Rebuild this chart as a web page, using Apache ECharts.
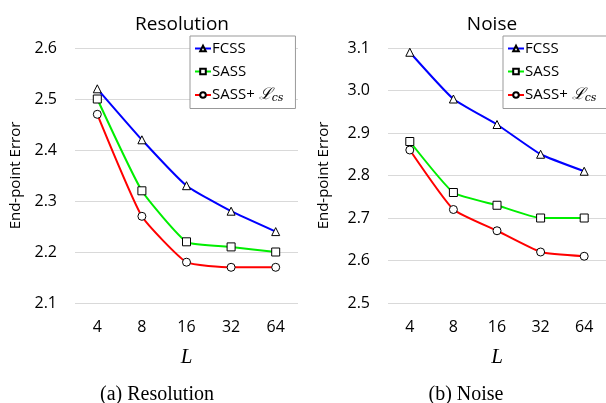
<!DOCTYPE html>
<html><head><meta charset="utf-8">
<script src="https://cdn.jsdelivr.net/npm/echarts@6/dist/echarts.min.js"></script>
<style>html,body{margin:0;padding:0;background:#fff}#c{width:606px;height:403px}</style>
</head><body><div id="c"></div>
<script>
const categories = ['4', '8', '16', '32', '64'];
const resFCSS = [2.52, 2.42, 2.33, 2.28, 2.24];
const resSASS = [2.50, 2.32, 2.22, 2.21, 2.20];
const resSASScs = [2.47, 2.27, 2.18, 2.17, 2.17];
const noiseFCSS = [3.09, 2.98, 2.92, 2.85, 2.81];
const noiseSASS = [2.88, 2.76, 2.73, 2.70, 2.70];
const noiseSASScs = [2.86, 2.72, 2.67, 2.62, 2.61];
const seriesNames = ['FCSS', 'SASS', 'SASS+ ℒcs'];

const FONT = 'Open Sans';
const colors = ['#0000ff', '#00ee00', '#ff0000'];
const symbols = ['triangle', 'rect', 'circle'];
const symSizes = [8, 8, 8];

function mkSeries(data, idx, gi) {
  return {
    name: seriesNames[idx], type: 'line', xAxisIndex: gi, yAxisIndex: gi,
    data: data, smooth: 0.15, symbol: symbols[idx], symbolSize: symSizes[idx],
    showAllSymbol: true,
    lineStyle: { color: colors[idx], width: 2 },
    itemStyle: { color: '#fff', borderColor: '#000', borderWidth: 1 },
    z: 3 - idx + 2
  };
}

function legendFormatter(name) {
  if (name === 'SASS+ ℒcs') return 'SASS+ {m|ℒ}{s|cs}';
  return name;
}
const legendRich = {
  m: { fontFamily: 'DejaVu Serif', fontStyle: 'italic', fontSize: 16, color: '#000' },
  s: { fontFamily: 'DejaVu Serif', fontStyle: 'italic', fontSize: 11, color: '#000', padding: [6, 0, 0, 0] }
};
function mkLegend(left) {
  return {
    orient: 'vertical', left: left, top: 36, width: 100,
    data: seriesNames, itemWidth: 16, itemHeight: 7, itemGap: 8,
    padding: [5, 12, 5, 4], borderColor: '#999', borderWidth: 1, backgroundColor: '#fff',
    textStyle: { fontFamily: FONT, fontSize: 15, color: '#000', rich: legendRich, padding: [0, 0, 0, -4] },
    formatter: legendFormatter, selectedMode: false
  };
}

function mkX(gi) {
  return {
    type: 'category', gridIndex: gi, data: categories, boundaryGap: true,
    axisLine: { show: false }, axisTick: { show: false },
    axisLabel: { fontFamily: FONT, fontSize: 16, color: '#000', margin: 16 },
    name: 'L', nameLocation: 'middle', nameGap: 44,
    nameTextStyle: { fontFamily: 'Liberation Serif', fontStyle: 'italic', fontSize: 21, color: '#000' }
  };
}
function mkY(gi, min, max, gap) {
  return {
    type: 'value', gridIndex: gi, min: min, max: max, interval: 0.1,
    axisLine: { show: false }, axisTick: { show: false },
    splitLine: { lineStyle: { color: '#d9d9d9', width: 1 } },
    axisLabel: { fontFamily: FONT, fontSize: 16, color: '#000', margin: 18,
      formatter: v => v.toFixed(1) },
    name: 'End-point Error', nameLocation: 'middle', nameGap: gap, nameRotate: 90,
    nameTextStyle: { fontFamily: FONT, fontSize: 15, color: '#000' }
  };
}

const chart = echarts.init(document.getElementById('c'));
chart.setOption({
  animation: false,
  backgroundColor: '#fff',
  title: [
    { text: 'Resolution', left: 177, top: 10, textAlign: 'center',
      textStyle: { fontFamily: FONT, fontSize: 19, fontWeight: 'normal', color: '#000' } },
    { text: 'Noise', left: 487, top: 10, textAlign: 'center',
      textStyle: { fontFamily: FONT, fontSize: 19, fontWeight: 'normal', color: '#000' } },
    { text: '(a) Resolution', left: 152, top: 380, textAlign: 'center',
      textStyle: { fontFamily: 'Liberation Serif', fontSize: 20, fontWeight: 'normal', color: '#000' } },
    { text: '(b) Noise', left: 461, top: 380, textAlign: 'center',
      textStyle: { fontFamily: 'Liberation Serif', fontSize: 20, fontWeight: 'normal', color: '#000' } }
  ],
  legend: [mkLegend(190), mkLegend(503)],
  grid: [
    { left: 75, right: 308, top: 48, bottom: 100 },
    { left: 388, right: 0, top: 48, bottom: 100 }
  ],
  xAxis: [mkX(0), mkX(1)],
  yAxis: [mkY(0, 2.1, 2.6, 52), mkY(1, 2.5, 3.1, 57)],
  series: [
    mkSeries(resFCSS, 0, 0), mkSeries(resSASS, 1, 0), mkSeries(resSASScs, 2, 0),
    mkSeries(noiseFCSS, 0, 1), mkSeries(noiseSASS, 1, 1), mkSeries(noiseSASScs, 2, 1)
  ]
});
</script></body></html>
